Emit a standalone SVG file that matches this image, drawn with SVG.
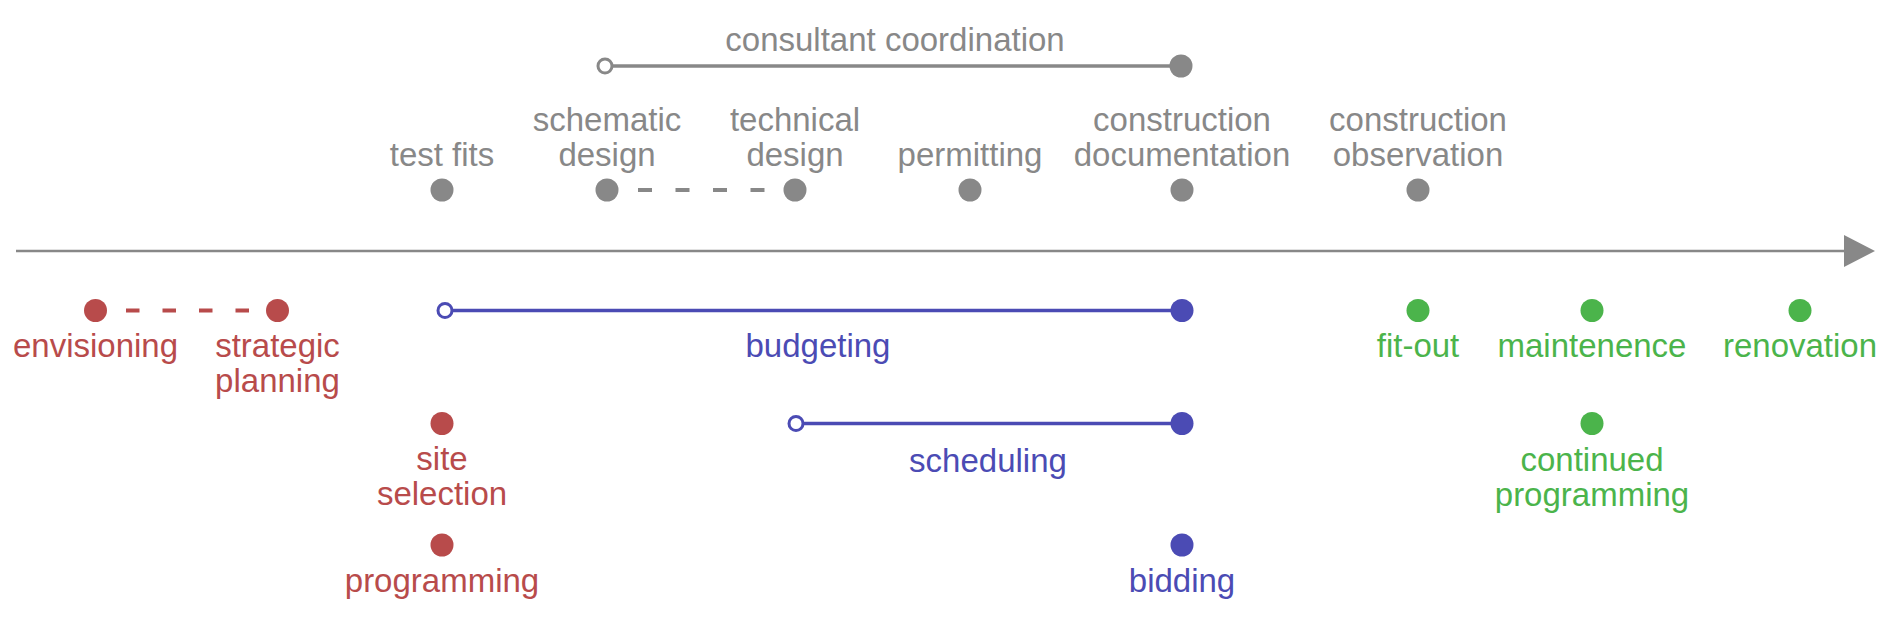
<svg xmlns="http://www.w3.org/2000/svg" width="1890" height="622" viewBox="0 0 1890 622">
<style>
text{font-family:"Liberation Sans",Arial,sans-serif;font-size:33px;text-anchor:middle}
.g{fill:#888888}.r{fill:#b84b4b}.b{fill:#4b4bb4}.gr{fill:#4bb44b}
.lg{stroke:#888888}.lr{stroke:#b84b4b}.lb{stroke:#4b4bb4}
.open{fill:#ffffff;stroke-width:3}
</style>
<rect width="1890" height="622" fill="#ffffff"/>
<g id="connectors" fill="none">
<line x1="16" y1="251" x2="1846" y2="251" stroke="#888888" stroke-width="2.5"/>
<polygon points="1844,235 1875,251 1844,267" fill="#888888"/>
<line x1="612" y1="66" x2="1181" y2="66" class="lg" stroke-width="3.5"/>
<line x1="638" y1="190" x2="765" y2="190" class="lg" stroke-width="4" stroke-dasharray="14 23.5"/>
<line x1="126" y1="310.5" x2="249" y2="310.5" class="lr" stroke-width="4" stroke-dasharray="13.5 23"/>
<line x1="452" y1="310.5" x2="1182" y2="310.5" class="lb" stroke-width="3.5"/>
<line x1="803" y1="423.5" x2="1182" y2="423.5" class="lb" stroke-width="3.5"/>
</g>
<g id="consultant-coordination">
<circle cx="605" cy="66" r="7" class="open lg"/>
<circle cx="1181" cy="66" r="11.5" class="g"/>
<text x="895" y="51" class="g">consultant coordination</text>
</g>
<g id="test-fits"><circle cx="442" cy="190" r="11.5" class="g"/><text x="442" y="166" class="g">test fits</text></g>
<g id="schematic-design"><circle cx="607" cy="190" r="11.5" class="g"/><text x="607" y="131" class="g">schematic</text><text x="607" y="166" class="g">design</text></g>
<g id="technical-design"><circle cx="795" cy="190" r="11.5" class="g"/><text x="795" y="131" class="g">technical</text><text x="795" y="166" class="g">design</text></g>
<g id="permitting"><circle cx="970" cy="190" r="11.5" class="g"/><text x="970" y="166" class="g">permitting</text></g>
<g id="construction-documentation"><circle cx="1182" cy="190" r="11.5" class="g"/><text x="1182" y="131" class="g">construction</text><text x="1182" y="166" class="g">documentation</text></g>
<g id="construction-observation"><circle cx="1418" cy="190" r="11.5" class="g"/><text x="1418" y="131" class="g">construction</text><text x="1418" y="166" class="g">observation</text></g>
<g id="envisioning"><circle cx="95.5" cy="310.5" r="11.5" class="r"/><text x="95.5" y="357" class="r">envisioning</text></g>
<g id="strategic-planning"><circle cx="277.5" cy="310.5" r="11.5" class="r"/><text x="277.5" y="357" class="r">strategic</text><text x="277.5" y="392" class="r">planning</text></g>
<g id="site-selection"><circle cx="442" cy="423.5" r="11.5" class="r"/><text x="442" y="470" class="r">site</text><text x="442" y="505" class="r">selection</text></g>
<g id="programming"><circle cx="442" cy="545" r="11.5" class="r"/><text x="442" y="592" class="r">programming</text></g>
<g id="budgeting">
<circle cx="445" cy="310.5" r="7" class="open lb"/>
<circle cx="1182" cy="310.5" r="11.5" class="b"/>
<text x="818" y="357" class="b">budgeting</text>
</g>
<g id="scheduling">
<circle cx="796" cy="423.5" r="7" class="open lb"/>
<circle cx="1182" cy="423.5" r="11.5" class="b"/>
<text x="988" y="472" class="b">scheduling</text>
</g>
<g id="bidding"><circle cx="1182" cy="545" r="11.5" class="b"/><text x="1182" y="592" class="b">bidding</text></g>
<g id="fit-out"><circle cx="1418" cy="310.5" r="11.5" class="gr"/><text x="1418" y="357" class="gr">fit-out</text></g>
<g id="maintenence"><circle cx="1592" cy="310.5" r="11.5" class="gr"/><text x="1592" y="357" class="gr">maintenence</text></g>
<g id="renovation"><circle cx="1800" cy="310.5" r="11.5" class="gr"/><text x="1800" y="357" class="gr">renovation</text></g>
<g id="continued-programming"><circle cx="1592" cy="423.5" r="11.5" class="gr"/><text x="1592" y="471" class="gr">continued</text><text x="1592" y="506" class="gr">programming</text></g>
</svg>
